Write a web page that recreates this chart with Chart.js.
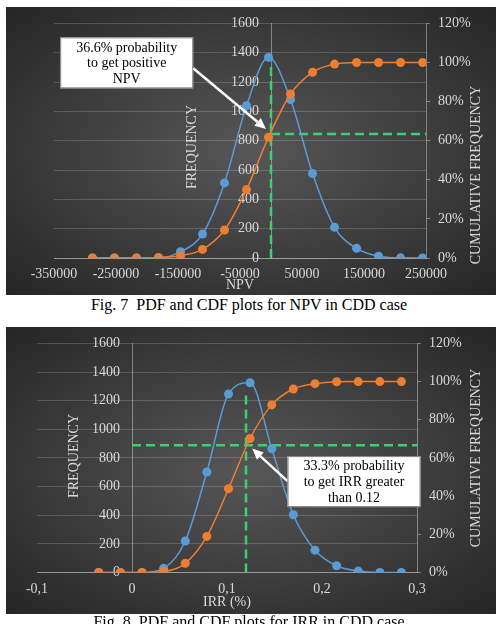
<!DOCTYPE html>
<html>
<head>
<meta charset="utf-8">
<script src="https://cdn.jsdelivr.net/npm/chart.js@4.4.0/dist/chart.umd.min.js"></script>
<style>
    body { margin: 0; background: #fff; width: 498px; height: 624px; overflow: hidden; position: relative; }
    .panel { position: absolute; left: 6px; width: 490px; background: radial-gradient(ellipse at 50% 50%, #575757 0%, #3c3c3c 55%, #252525 100%); }
    .panel canvas { display: block; }
    .caption { position: absolute; left: 0; width: 498px; text-align: center; font: 16px/16px "Liberation Serif", "Times New Roman", serif; color: #000; white-space: pre; }
</style>
</head>
<body>
<div class="panel" style="top:7px;height:288px"><canvas id="npvChart"></canvas></div>
<div class="caption" style="top:297px">Fig. 7  PDF and CDF plots for NPV in CDD case</div>
<div class="panel" style="top:327px;height:287px"><canvas id="irrChart"></canvas></div>
<div class="caption" style="top:614px">Fig. 8  PDF and CDF plots for IRR in CDD case</div>
<script>
// NPV histogram (Fig. 7)
const npvBins = [-288000, -252500, -217000, -181500, -146000, -110500, -75000, -39500, -4000, 31500, 67000, 102500, 138000, 173500, 209000, 244500];
const npvFrequency = [0, 0, 0, 0, 43, 163, 512, 1038, 1368, 1081, 576, 209, 66, 12, 1, 0];
const npvCumulative = [0, 0, 0, 0.3, 1.2, 4.4, 14.3, 35.0, 61.8, 83.9, 95.0, 99.2, 100, 100, 100, 100];
const npvXTicks = [-350000, -250000, -150000, -50000, 50000, 150000, 250000];
const npvCutoff = 0;
const npvCutoffCdf = 63.4;
const npvCutoffTop = 1330;

// IRR histogram (Fig. 8)
const irrBins = [-0.035, -0.0122, 0.0105, 0.0333, 0.0561, 0.0788, 0.1016, 0.1243, 0.1471, 0.1698, 0.1926, 0.2154, 0.2381, 0.2609, 0.2836];
const irrFrequency = [0, 0, 0, 29, 220, 702, 1247, 1325, 864, 403, 156, 47, 10, 0, 0];
const irrCumulative = [0, 0, 0, 0.5, 4.8, 18.9, 43.9, 70.2, 87.8, 96.1, 98.9, 99.9, 100, 100, 100];
const irrXTicks = [-0.1, 0, 0.1, 0.2, 0.3];
const irrCutoff = 0.12;
const irrCutoffCdf = 66.7;
const irrCutoffTop = 1260;

const freqTicks = [0, 200, 400, 600, 800, 1000, 1200, 1400, 1600];
const cumTicks = [0, 20, 40, 60, 80, 100, 120];

const FONT = '"Liberation Serif", "Times New Roman", serif';
const LABEL = '#d9d9d9';
const GRID = 'rgba(255, 255, 255, 0.17)';
const AXIS = 'rgba(255, 255, 255, 0.38)';
const BLUE = '#5b9bd5';
const ORANGE = '#ed7d31';
const GREEN = '#3bd16f';

Chart.defaults.font.family = FONT;
Chart.defaults.font.size = 14;
Chart.defaults.color = LABEL;

function drawVertical(ctx, text, x, y) {
    ctx.save();
    ctx.translate(x, y);
    ctx.rotate(-Math.PI / 2);
    ctx.fillText(text, 0, 0);
    ctx.restore();
}

// axis titles, the callout box and its arrow
const overlayPlugin = {
    id: 'overlay',
    beforeDraw(chart) {
        // the crossing value axis puts its labels flush on the line, move them left a bit
        const items = chart.scales.y.getLabelItems();
        if (!items._shifted) {
            items.forEach(it => { it.options.translation[0] -= 12; });
            items._shifted = true;
        }
    },
    afterDatasetsDraw(chart, args, opts) {
        const ctx = chart.ctx;
        const xs = chart.scales.x, ys = chart.scales.y, y1 = chart.scales.y1;
        ctx.save();
        ctx.font = '14px ' + FONT;
        ctx.fillStyle = LABEL;
        ctx.textAlign = 'center';
        ctx.textBaseline = 'middle';
        drawVertical(ctx, 'FREQUENCY', opts.leftTitle[0], opts.leftTitle[1]);
        drawVertical(ctx, 'CUMULATIVE FREQUENCY', opts.rightTitle[0], opts.rightTitle[1]);

        const bx = xs.getPixelForValue(opts.box.x);
        const by = ys.getPixelForValue(opts.box.y);
        const bw = 133, bh = 51;

        // arrow
        const sx = opts.arrowFromLeft ? bx : bx + bw;
        const sy = by + opts.arrowOffset;
        const tx = xs.getPixelForValue(opts.tip.x);
        const ty = y1.getPixelForValue(opts.tip.y);
        const ang = Math.atan2(ty - sy, tx - sx);
        const head = 11;
        ctx.strokeStyle = '#ffffff';
        ctx.fillStyle = '#ffffff';
        ctx.lineWidth = 2.5;
        ctx.beginPath();
        ctx.moveTo(sx, sy);
        ctx.lineTo(tx - Math.cos(ang) * head, ty - Math.sin(ang) * head);
        ctx.stroke();
        ctx.beginPath();
        ctx.moveTo(tx, ty);
        ctx.lineTo(tx - Math.cos(ang) * head - Math.sin(ang) * 5, ty - Math.sin(ang) * head + Math.cos(ang) * 5);
        ctx.lineTo(tx - Math.cos(ang) * head + Math.sin(ang) * 5, ty - Math.sin(ang) * head - Math.cos(ang) * 5);
        ctx.closePath();
        ctx.fill();

        // box
        ctx.fillStyle = '#ffffff';
        ctx.fillRect(bx, by, bw, bh);
        ctx.strokeStyle = '#808080';
        ctx.lineWidth = 1;
        ctx.strokeRect(bx + 0.5, by + 0.5, bw - 1, bh - 1);
        ctx.fillStyle = '#000000';
        opts.lines.forEach((line, i) => {
            ctx.fillText(line, bx + bw / 2, by + 10.5 + i * 15.8);
        });
        ctx.restore();
    }
};

function toPoints(xs, ys) {
    return xs.map((v, i) => ({ x: v, y: ys[i] }));
}

function createHistogramChart(canvasId, cfg) {
    const ctx = document.getElementById(canvasId).getContext('2d');
    return new Chart(ctx, {
        type: 'line',
        data: {
            datasets: [{
                label: 'CDF',
                data: toPoints(cfg.bins, cfg.cumulative),
                yAxisID: 'y1',
                borderColor: ORANGE,
                backgroundColor: ORANGE,
                borderWidth: 1.5,
                pointRadius: 4.5,
                pointBorderWidth: 0,
                cubicInterpolationMode: 'monotone',
                order: 0
            }, {
                label: 'PDF',
                data: toPoints(cfg.bins, cfg.frequency),
                yAxisID: 'y',
                borderColor: BLUE,
                backgroundColor: BLUE,
                borderWidth: 1.5,
                pointRadius: 4.5,
                pointBorderWidth: 0,
                cubicInterpolationMode: 'monotone',
                order: 1
            }, {
                label: 'cutoff',
                data: [{ x: cfg.cutoff, y: 0 }, { x: cfg.cutoff, y: cfg.cutoffTop }],
                yAxisID: 'y',
                borderColor: GREEN,
                borderWidth: 2.5,
                borderDash: [9, 5],
                pointRadius: 0,
                order: 2
            }, {
                label: 'cutoff cdf',
                data: [{ x: cfg.cutoffFrom, y: cfg.cutoffCdf }, { x: cfg.xMax, y: cfg.cutoffCdf }],
                yAxisID: 'y1',
                borderColor: GREEN,
                borderWidth: 2.5,
                borderDash: [9, 5],
                pointRadius: 0,
                order: 2
            }]
        },
        options: {
            responsive: true,
            maintainAspectRatio: false,
            animation: false,
            layout: { padding: { top: cfg.padTop, left: cfg.padLeft, right: 0, bottom: 0 } },
            plugins: {
                legend: { display: false },
                tooltip: { enabled: false },
                overlay: cfg.overlay
            },
            scales: {
                x: {
                    type: 'linear',
                    min: cfg.xMin,
                    max: cfg.xMax,
                    afterBuildTicks: (scale) => { scale.ticks = cfg.xTicks.map(v => ({ value: v })); },
                    afterFit: (scale) => { scale.height = cfg.xHeight; },
                    grid: { display: false, drawTicks: false },
                    border: { display: true, color: AXIS, width: 1 },
                    ticks: { padding: 8, maxRotation: 0, autoSkip: false, callback: cfg.xFormat },
                    title: { display: true, text: cfg.xTitle, color: LABEL, font: { size: 14 }, padding: { top: 0, bottom: cfg.xTitlePad } }
                },
                y: {
                    axis: 'y',
                    position: { x: 0 },
                    min: 0,
                    max: 1600,
                    afterBuildTicks: (scale) => { scale.ticks = freqTicks.map(v => ({ value: v })); },
                    grid: { color: GRID, drawTicks: false },
                    border: { display: true, color: AXIS, width: 1 },
                    ticks: { padding: 0, callback: (v) => String(v) }
                },
                y1: {
                    axis: 'y',
                    position: 'right',
                    min: 0,
                    max: 120,
                    afterBuildTicks: (scale) => { scale.ticks = cumTicks.map(v => ({ value: v })); },
                    afterFit: (scale) => { scale.width = cfg.rightWidth; },
                    grid: { drawOnChartArea: false, drawTicks: true, tickLength: 4, color: AXIS },
                    border: { display: true, color: AXIS, width: 1 },
                    ticks: { padding: 8, callback: (v) => v + '%' }
                }
            }
        },
        plugins: [overlayPlugin]
    });
}

createHistogramChart('npvChart', {
    bins: npvBins,
    frequency: npvFrequency,
    cumulative: npvCumulative,
    xTicks: npvXTicks,
    xMin: -350000,
    xMax: 250000,
    xFormat: (v) => String(v),
    xTitle: 'NPV',
    xTitlePad: 1,
    xHeight: 37,
    rightWidth: 70,
    padTop: 15.6,
    padLeft: 48,
    cutoff: npvCutoff,
    cutoffFrom: npvCutoff,
    cutoffCdf: npvCutoffCdf,
    cutoffTop: npvCutoffTop,
    overlay: {
        leftTitle: [186, 140],
        rightTitle: [470, 168],
        box: { x: -340000, y: 1505 },
        arrowFromLeft: false,
        arrowOffset: 31,
        tip: { x: -8000, y: 66 },
        lines: ['36.6% probability', 'to get positive', 'NPV']
    }
});

createHistogramChart('irrChart', {
    bins: irrBins,
    frequency: irrFrequency,
    cumulative: irrCumulative,
    xTicks: irrXTicks,
    xMin: -0.1,
    xMax: 0.3,
    xFormat: (v) => String(Math.round(v * 10) / 10).replace('.', ','),
    xTitle: 'IRR (%)',
    xTitlePad: 3.6,
    xHeight: 41.5,
    rightWidth: 79,
    padTop: 14.3,
    padLeft: 31,
    cutoff: irrCutoff,
    cutoffFrom: 0,
    cutoffCdf: irrCutoffCdf,
    cutoffTop: irrCutoffTop,
    overlay: {
        leftTitle: [68, 129],
        rightTitle: [470, 131],
        box: { x: 0.1637, y: 813 },
        arrowFromLeft: true,
        arrowOffset: 25,
        tip: { x: 0.1266, y: 64.9 },
        lines: ['33.3% probability', 'to get IRR greater', 'than 0.12']
    }
});
</script>
</body>
</html>
